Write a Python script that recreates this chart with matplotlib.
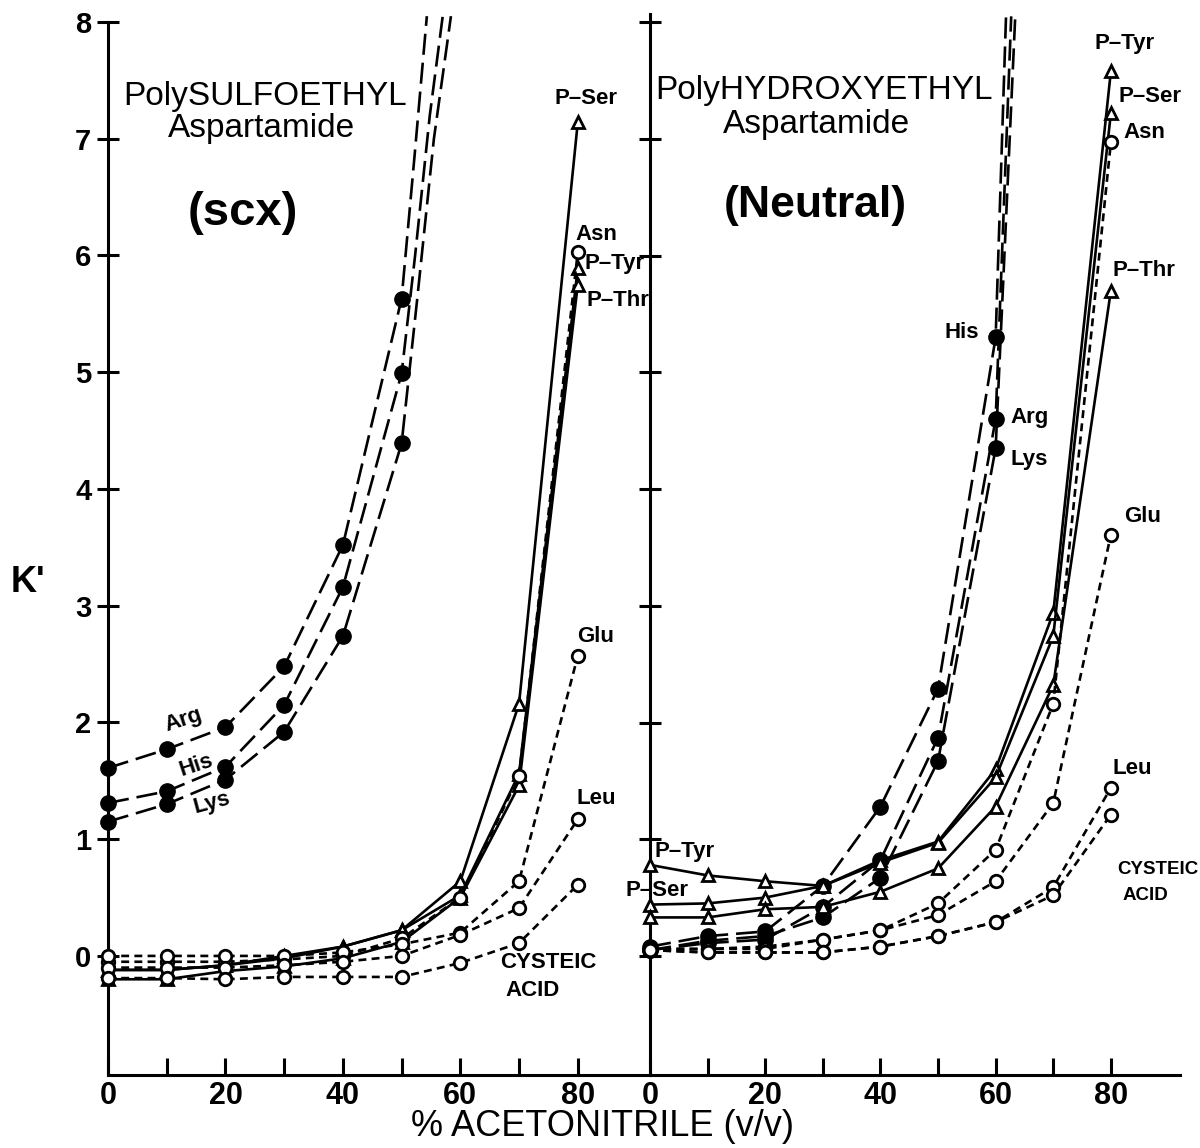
import numpy as np
import matplotlib.pyplot as plt
from matplotlib.ticker import FixedLocator

plt.rcParams['font.family'] = ['Liberation Sans', 'DejaVu Sans']

# % acetonitrile (v/v)
acn = [0, 10, 20, 30, 40, 50, 60, 70, 80]
acn_basic = [0, 10, 20, 30, 40, 50]
acn_basic_r = [0, 10, 20, 30, 40, 50, 60]

# ---- PolySULFOETHYL Aspartamide (scx), k' ----
scx_arg = [1.61, 1.77, 1.96, 2.48, 3.52, 5.63]
scx_his = [1.31, 1.41, 1.62, 2.15, 3.16, 4.99]
scx_lys = [1.15, 1.30, 1.51, 1.92, 2.74, 4.39]
# dashed continuation beyond the last point
scx_arg_tail_x = [52.2, 54.3]
scx_arg_tail_y = [6.85, 8.05]
scx_his_tail_x = [52.3, 54.8, 57.0]
scx_his_tail_y = [6.0, 7.2, 8.05]
scx_lys_tail_x = [52.6, 55.5, 58.4]
scx_lys_tail_y = [5.6, 7.0, 8.05]

scx_pser = [-0.12, -0.12, -0.08, 0.00, 0.08, 0.22, 0.64, 2.16, 7.14]
scx_ptyr = [-0.12, -0.12, -0.08, -0.02, 0.08, 0.22, 0.52, 1.56, 5.89]
scx_pthr = [-0.20, -0.20, -0.13, -0.09, -0.02, 0.12, 0.50, 1.46, 5.75]
scx_asn = [-0.05, -0.05, -0.05, -0.03, 0.00, 0.15, 0.50, 1.54, 6.03]
scx_glu = [0.00, 0.00, 0.00, 0.00, 0.03, 0.10, 0.20, 0.64, 2.57]
scx_leu = [-0.10, -0.10, -0.10, -0.08, -0.05, 0.00, 0.18, 0.41, 1.17]
scx_cys = [-0.19, -0.19, -0.20, -0.18, -0.18, -0.18, -0.06, 0.11, 0.61]

# ---- PolyHYDROXYETHYL Aspartamide (Neutral), k' ----
neu_his = [0.08, 0.17, 0.21, 0.60, 1.28, 2.29, 5.30]
neu_arg = [0.05, 0.11, 0.14, 0.42, 0.82, 1.87, 4.60]
neu_lys = [0.05, 0.13, 0.17, 0.33, 0.67, 1.67, 4.35]
neu_his_tail_x = [61.8]
neu_his_tail_y = [8.05]
neu_arg_tail_x = [62.7]
neu_arg_tail_y = [8.05]
neu_lys_tail_x = [63.4]
neu_lys_tail_y = [8.05]

neu_ptyr = [0.78, 0.69, 0.64, 0.60, 0.82, 0.98, 1.60, 2.94, 7.58]
neu_pser = [0.44, 0.45, 0.50, 0.60, 0.80, 0.97, 1.53, 2.74, 7.22]
neu_pthr = [0.33, 0.33, 0.40, 0.42, 0.55, 0.75, 1.28, 2.32, 5.70]
neu_asn = [0.06, 0.06, 0.08, 0.14, 0.22, 0.45, 0.91, 2.16, 6.97]
neu_glu = [0.06, 0.06, 0.06, 0.14, 0.22, 0.35, 0.64, 1.31, 3.61]
neu_leu = [0.05, 0.03, 0.03, 0.03, 0.08, 0.17, 0.29, 0.59, 1.44]
neu_cys = [0.05, 0.03, 0.03, 0.03, 0.08, 0.17, 0.29, 0.52, 1.21]

W, H = 1200, 1148
fig = plt.figure(figsize=(W / 100, H / 100), dpi=100)


def px(x, y):
    return x / W, 1 - y / H


LW = 1.9
LONG = (8, 3)
SHORT = (3, 2)

# axes: left panel 108..650 px, right panel 650..1180 px, y=8 at 22 px, bottom 1075 px
ax1 = fig.add_axes([108 / W, 1 - 1075 / H, 542 / W, (1075 - 22) / H])
ax2 = fig.add_axes([650 / W, 1 - 1075 / H, 530 / W, (1075 - 14) / H])
ax1.set_xlim(0, 92.3)
ax1.set_ylim(-1.02, 8.0)
ax2.set_xlim(0, 92.0)
ax2.set_ylim(-1.02, 8.07)

for ax in (ax1, ax2):
    for s in ('top', 'right'):
        ax.spines[s].set_visible(False)
    ax.spines['left'].set_linewidth(2.2)
    ax.spines['bottom'].set_linewidth(2.2)
    ax.set_yticks(range(0, 9))
    ax.set_xticks([0, 20, 40, 60, 80])
    ax.xaxis.set_minor_locator(FixedLocator([10, 30, 50, 70]))
    ax.tick_params(axis='y', direction='inout', length=16, width=2.2)
    ax.tick_params(axis='x', which='both', direction='in', length=12, width=2.2)
    ax.patch.set_alpha(0)
    for t in ax.get_xticklabels():
        t.set_fontweight('bold')
        t.set_fontsize(22)

ax1.tick_params(axis='y', labelsize=21, pad=4)
for t in ax1.get_yticklabels():
    t.set_fontweight('bold')
ax2.tick_params(axis='y', labelleft=False)
ax1.tick_params(axis='x', pad=4)
ax2.tick_params(axis='x', pad=4)


def basic(ax, x, y, tx, ty):
    xs = list(x) + list(tx)
    ys = list(y) + list(ty)
    ax.plot(xs, ys, color='k', lw=LW, dashes=LONG, marker='o', ms=11,
            mfc='k', mec='k', markevery=list(range(len(x))), clip_on=False, zorder=3)


def phos(ax, y):
    ax.plot(acn, y, color='k', lw=LW, ls='-', marker='^', ms=9,
            mfc='white', mec='k', mew=2, clip_on=False, zorder=4)


def neutral(ax, y):
    ax.plot(acn, y, color='k', lw=LW, dashes=SHORT, marker='o', ms=9,
            mfc='white', mec='k', mew=2, clip_on=False, zorder=4)


basic(ax1, acn_basic, scx_arg, scx_arg_tail_x, scx_arg_tail_y)
basic(ax1, acn_basic, scx_his, scx_his_tail_x, scx_his_tail_y)
basic(ax1, acn_basic, scx_lys, scx_lys_tail_x, scx_lys_tail_y)
for s in (scx_pser, scx_ptyr, scx_pthr):
    phos(ax1, s)
for s in (scx_asn, scx_glu, scx_leu, scx_cys):
    neutral(ax1, s)

basic(ax2, acn_basic_r, neu_his, neu_his_tail_x, neu_his_tail_y)
basic(ax2, acn_basic_r, neu_arg, neu_arg_tail_x, neu_arg_tail_y)
basic(ax2, acn_basic_r, neu_lys, neu_lys_tail_x, neu_lys_tail_y)
for s in (neu_ptyr, neu_pser, neu_pthr):
    phos(ax2, s)
for s in (neu_asn, neu_glu, neu_leu, neu_cys):
    neutral(ax2, s)

# titles
fig.text(*px(265, 96), 'PolySULFOETHYL', fontsize=24, ha='center', va='center')
fig.text(*px(262, 128), 'Aspartamide', fontsize=24, ha='center', va='center')
fig.text(*px(243, 213), '(scx)', fontsize=34, fontweight='bold', ha='center', va='center')
fig.text(*px(824, 90), 'PolyHYDROXYETHYL', fontsize=24, ha='center', va='center')
fig.text(*px(816, 125), 'Aspartamide', fontsize=24, ha='center', va='center')
fig.text(*px(815, 205), '(Neutral)', fontsize=32, fontweight='bold', ha='center', va='center')

# axis labels
fig.text(*px(28, 582), "K'", fontsize=26, fontweight='bold', ha='center', va='center')
fig.text(*px(603, 1127), '% ACETONITRILE (v/v)', fontsize=26, ha='center', va='center')

# curve labels, left panel
lab = dict(fontsize=16, fontweight='bold', va='center')
fig.text(*px(183, 720), 'Arg', rotation=18, ha='center', **lab)
fig.text(*px(196, 765), 'His', rotation=18, ha='center', **lab)
fig.text(*px(212, 803), 'Lys', rotation=15, ha='center', **lab)
fig.text(*px(555, 98), 'P\u2013Ser', ha='left', **lab)
fig.text(*px(575, 234), 'Asn', ha='left', **lab)
fig.text(*px(584, 264), 'P\u2013Tyr', ha='left', **lab)
fig.text(*px(587, 300), 'P\u2013Thr', ha='left', **lab)
fig.text(*px(577, 637), 'Glu', ha='left', **lab)
fig.text(*px(577, 798), 'Leu', ha='left', **lab)
fig.text(*px(500, 963), 'CYSTEIC', ha='left', **lab)
fig.text(*px(505, 990), 'ACID', ha='left', **lab)

# curve labels, right panel
fig.text(*px(1095, 44), 'P\u2013Tyr', ha='left', **lab)
fig.text(*px(1118, 97), 'P\u2013Ser', ha='left', **lab)
fig.text(*px(1123, 133), 'Asn', ha='left', **lab)
fig.text(*px(1113, 270), 'P\u2013Thr', ha='left', **lab)
fig.text(*px(1124, 517), 'Glu', ha='left', **lab)
fig.text(*px(1113, 768), 'Leu', ha='left', **lab)
fig.text(*px(945, 333), 'His', ha='left', **lab)
fig.text(*px(1010, 418), 'Arg', ha='left', **lab)
fig.text(*px(1010, 460), 'Lys', ha='left', **lab)
fig.text(*px(655, 852), 'P\u2013Tyr', ha='left', **lab)
fig.text(*px(626, 890), 'P\u2013Ser', ha='left', **lab)
fig.text(*px(1117, 870), 'CYSTEIC', ha='left', fontsize=13.5, fontweight='bold', va='center')
fig.text(*px(1123, 895), 'ACID', ha='left', fontsize=13.5, fontweight='bold', va='center')

fig.savefig('out.png', dpi=100)
